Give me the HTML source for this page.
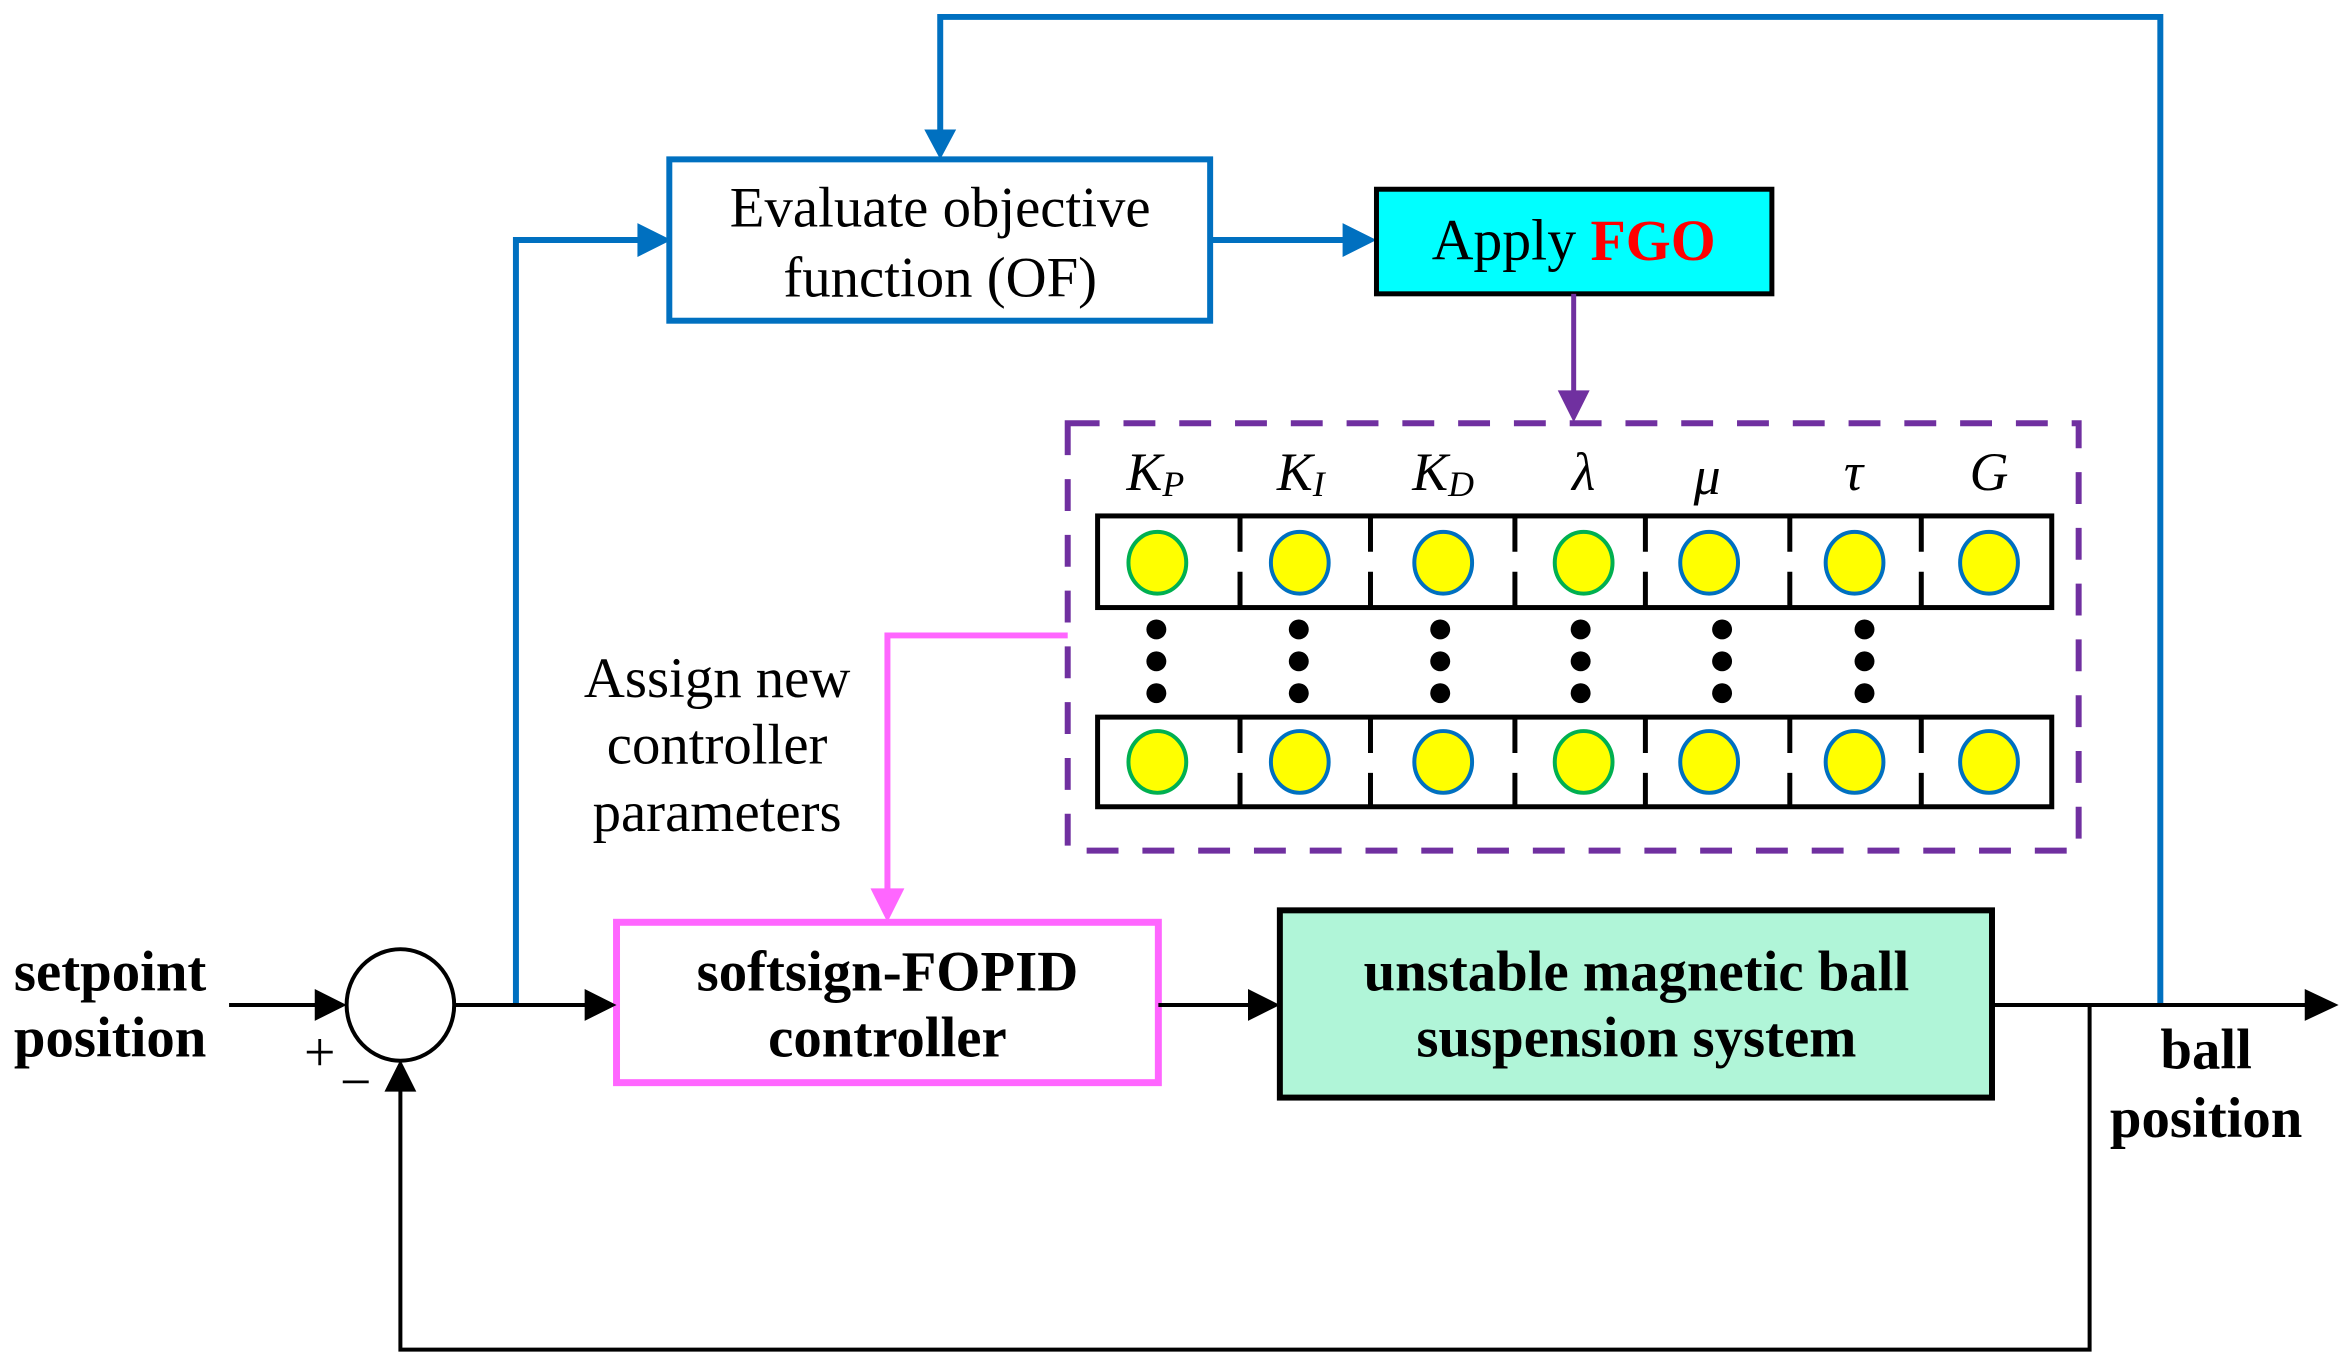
<!DOCTYPE html>
<html><head><meta charset="utf-8"><style>
html,body{margin:0;padding:0;background:#fff}
svg{display:block}
text{font-family:"Liberation Serif",serif}
</style></head><body>
<svg width="2352" height="1367" viewBox="0 0 2352 1367" xmlns="http://www.w3.org/2000/svg">
<g transform="scale(0.996)">
<g fill="none" stroke-linecap="butt">
<polyline points="2169,1009 2169,17 944,17 944,140" stroke="#0070C0" stroke-width="6"/>
<polygon points="928,130 960,130 944,160" fill="#0070C0"/>
<polyline points="518,1009 518,241 650,241" stroke="#0070C0" stroke-width="6"/>
<polygon points="640,224 640,258 674,241" fill="#0070C0"/>
<line x1="1215" y1="241" x2="1360" y2="241" stroke="#0070C0" stroke-width="6"/>
<polygon points="1348,224 1348,258 1382,241" fill="#0070C0"/>
<rect x="672" y="160" width="543" height="162" stroke="#0070C0" stroke-width="6" fill="#fff"/>
<rect x="1382" y="190" width="397" height="105" stroke="#000" stroke-width="5" fill="#00FFFF"/>
<line x1="1580" y1="295" x2="1580" y2="400" stroke="#7030A0" stroke-width="5"/>
<polygon points="1564,392 1596,392 1580,424" fill="#7030A0"/>
<rect x="1072" y="425" width="1015" height="429" stroke="#7030A0" stroke-width="6" stroke-dasharray="32,24"/>
<rect x="1102" y="518" width="958" height="92" stroke="#000" stroke-width="5" fill="#fff"/>
<rect x="1102" y="720" width="958" height="90" stroke="#000" stroke-width="5" fill="#fff"/>
<g stroke="#000" stroke-width="5">
<line x1="1245" y1="518" x2="1245" y2="610" stroke-dasharray="36,20"/>
<line x1="1376" y1="518" x2="1376" y2="610" stroke-dasharray="36,20"/>
<line x1="1521" y1="518" x2="1521" y2="610" stroke-dasharray="36,20"/>
<line x1="1652" y1="518" x2="1652" y2="610" stroke-dasharray="36,20"/>
<line x1="1797" y1="518" x2="1797" y2="610" stroke-dasharray="36,20"/>
<line x1="1929" y1="518" x2="1929" y2="610" stroke-dasharray="36,20"/>
<line x1="1245" y1="720" x2="1245" y2="810" stroke-dasharray="36,20"/>
<line x1="1376" y1="720" x2="1376" y2="810" stroke-dasharray="36,20"/>
<line x1="1521" y1="720" x2="1521" y2="810" stroke-dasharray="36,20"/>
<line x1="1652" y1="720" x2="1652" y2="810" stroke-dasharray="36,20"/>
<line x1="1797" y1="720" x2="1797" y2="810" stroke-dasharray="36,20"/>
<line x1="1929" y1="720" x2="1929" y2="810" stroke-dasharray="36,20"/>
</g>
<g fill="#FFFF00" stroke-width="4">
<ellipse cx="1162" cy="565" rx="29" ry="31" stroke="#00B050"/>
<ellipse cx="1305" cy="565" rx="29" ry="31" stroke="#0070C0"/>
<ellipse cx="1449" cy="565" rx="29" ry="31" stroke="#0070C0"/>
<ellipse cx="1590" cy="565" rx="29" ry="31" stroke="#00B050"/>
<ellipse cx="1716" cy="565" rx="29" ry="31" stroke="#0070C0"/>
<ellipse cx="1862" cy="565" rx="29" ry="31" stroke="#0070C0"/>
<ellipse cx="1997" cy="565" rx="29" ry="31" stroke="#0070C0"/>
<ellipse cx="1162" cy="765" rx="29" ry="31" stroke="#00B050"/>
<ellipse cx="1305" cy="765" rx="29" ry="31" stroke="#0070C0"/>
<ellipse cx="1449" cy="765" rx="29" ry="31" stroke="#0070C0"/>
<ellipse cx="1590" cy="765" rx="29" ry="31" stroke="#00B050"/>
<ellipse cx="1716" cy="765" rx="29" ry="31" stroke="#0070C0"/>
<ellipse cx="1862" cy="765" rx="29" ry="31" stroke="#0070C0"/>
<ellipse cx="1997" cy="765" rx="29" ry="31" stroke="#0070C0"/>
</g>
<g fill="#000" stroke="none">
<circle cx="1161" cy="632" r="10"/><circle cx="1161" cy="664" r="10"/><circle cx="1161" cy="696" r="10"/>
<circle cx="1304" cy="632" r="10"/><circle cx="1304" cy="664" r="10"/><circle cx="1304" cy="696" r="10"/>
<circle cx="1446" cy="632" r="10"/><circle cx="1446" cy="664" r="10"/><circle cx="1446" cy="696" r="10"/>
<circle cx="1587" cy="632" r="10"/><circle cx="1587" cy="664" r="10"/><circle cx="1587" cy="696" r="10"/>
<circle cx="1729" cy="632" r="10"/><circle cx="1729" cy="664" r="10"/><circle cx="1729" cy="696" r="10"/>
<circle cx="1872" cy="632" r="10"/><circle cx="1872" cy="664" r="10"/><circle cx="1872" cy="696" r="10"/>
</g>
<polyline points="1072,638 891,638 891,900" stroke="#FF66FF" stroke-width="6"/>
<polygon points="874,892 908,892 891,926" fill="#FF66FF"/>
<rect x="619" y="926" width="544" height="161" stroke="#FF66FF" stroke-width="7" fill="#fff"/>
<rect x="1285" y="914" width="715" height="188" stroke="#000" stroke-width="6" fill="#B0F5D8"/>
<g stroke="#000" stroke-width="4">
<line x1="230" y1="1009" x2="325" y2="1009"/>
<line x1="456" y1="1009" x2="595" y2="1009"/>
<line x1="1163" y1="1009" x2="1262" y2="1009"/>
<line x1="2000" y1="1009" x2="2322" y2="1009"/>
<polyline points="2098,1009 2098,1355 402,1355 402,1088"/>
<ellipse cx="402" cy="1009" rx="54" ry="56" fill="#fff"/>
</g>
<g fill="#000">
<polygon points="316,993 316,1025 348,1009"/>
<polygon points="587,993 587,1025 619,1009"/>
<polygon points="1253,993 1253,1025 1285,1009"/>
<polygon points="2314,993 2314,1025 2348,1009"/>
<polygon points="386,1096 418,1096 402,1064"/>
</g>
</g>
<g font-size="57" text-anchor="middle" dominant-baseline="central" fill="#000">
<text x="944" y="209">Evaluate objective</text>
<text x="944" y="279">function (OF)</text>
<text x="1580" y="242" font-size="58">Apply <tspan fill="#FF0000" font-weight="bold">FGO</tspan></text>
<text x="720" y="681">Assign new</text>
<text x="720" y="748">controller</text>
<text x="720" y="816">parameters</text>
<g font-style="italic" font-size="54">
<text x="1160" y="474">K<tspan font-size="36" dy="12">P</tspan></text>
<text x="1306" y="474">K<tspan font-size="36" dy="12">I</tspan></text>
<text x="1449" y="474">K<tspan font-size="36" dy="12">D</tspan></text>
<text x="1590" y="474">λ</text>
<text x="1714" y="478">μ</text>
<text x="1861" y="474">τ</text>
<text x="1997" y="474">G</text>
</g>
<g font-weight="bold">
<text x="891" y="976">softsign-FOPID</text>
<text x="891" y="1042">controller</text>
<text x="1643" y="976">unstable magnetic ball</text>
<text x="1643" y="1042">suspension system</text>
<text x="2215" y="1054">ball</text>
<text x="2215" y="1123">position</text>
<text x="14" y="976" text-anchor="start">setpoint</text>
<text x="14" y="1042" text-anchor="start">position</text>
</g>
<text x="321" y="1057" font-size="56">+</text>
<text x="357" y="1087" font-size="56">−</text>
</g>
</g>
</svg>
</body></html>
